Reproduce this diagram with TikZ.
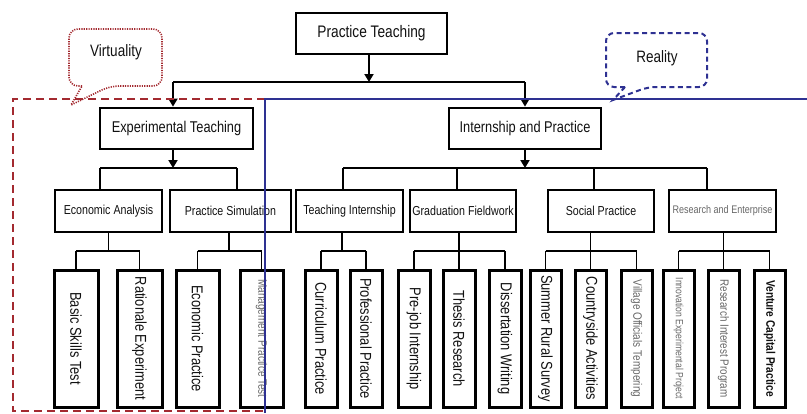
\documentclass[tikz,border=0pt]{standalone}
\usepackage{fontspec}
\setmainfont{Liberation Sans}
\newfontfamily\nar[FakeStretch=0.82]{Liberation Sans}
\usetikzlibrary{arrows.meta}
\definecolor{vred}{HTML}{A32A30}
\definecolor{rblue}{HTML}{2E3192}
\definecolor{txt}{HTML}{111111}
\definecolor{gtxt}{HTML}{666666}
\tikzset{
  box/.style={draw=black, line width=2.8pt, inner sep=0pt, text=txt},
  lone/.style={box, minimum width=151pt, minimum height=41pt, font=\nar\fontsize{16.7}{19}\selectfont},
  ltwo/.style={box, minimum height=41pt, font=\nar\fontsize{15.6}{18}\selectfont},
  lthree/.style={box, minimum height=42pt, font=\nar\fontsize{13}{15}\selectfont},
  leaf/.style={box, line width=3pt, minimum height=137pt, font=\nar\fontsize{15.7}{18}\selectfont},
  gleaf/.style={leaf, text=gtxt, font=\nar\fontsize{12.2}{14}\selectfont},
  conn/.style={line width=1.8pt, draw=black},
  arr/.style={conn, -{Triangle[length=8pt,width=9pt]}},
  vdot/.style={draw=vred, line width=1.6pt, dash pattern=on 1.2pt off 1.2pt},
  rdash/.style={draw=rblue, line width=2pt, dash pattern=on 5pt off 3.5pt},
  calltext/.style={text=txt, font=\nar\fontsize{16.5}{19}\selectfont},
}
\begin{document}
\begin{tikzpicture}[x=1pt,y=-1pt]
\useasboundingbox (0,0) rectangle (807,413);

% level 1 and 2
\node[lone] (pt) at (371.5,33.5) {Practice Teaching};
\node[ltwo, minimum width=153pt] (et) at (176.5,128.5) {Experimental Teaching};
\node[ltwo, minimum width=152pt] (ip) at (525,128.5) {Internship and Practice};

\coordinate (ptx) at (369,82);
\coordinate (hl) at (173,82);
\coordinate (hr) at (525,82);
\draw[arr] (ptx |- pt.south) -- (ptx);
\draw[conn] (hl) -- (hr);
\draw[arr] (hl) -- (hl |- et.north);
\draw[arr] (hr) -- (ip.north);

% level 3
\node[lthree, minimum width=107pt] (ea) at (108.5,211) {Economic Analysis};
\node[lthree, minimum width=121pt] (ps) at (230.5,211) {Practice Simulation};
\node[lthree, minimum width=107pt] (ti) at (349.5,211) {Teaching Internship};
\node[lthree, minimum width=106pt] (gf) at (463,211) {Graduation Fieldwork};
\node[lthree, minimum width=106pt] (sp) at (601,211) {Social Practice};
\node[lthree, minimum width=107pt, text=gtxt, font=\nar\fontsize{11}{13}\selectfont] (re) at (722.5,211) {Research and Enterprise};

\coordinate (ha) at (100,168);
\coordinate (hb) at (237,168);
\draw[arr] (hl |- et.south) -- (hl |- ha);
\draw[conn] (ha) -- (hb);
\draw[conn] (ha) -- (ha |- ea.north);
\draw[conn] (hb) -- (hb |- ps.north);

\coordinate (ia) at (343,168);
\coordinate (ib) at (457,168);
\coordinate (ic) at (594,168);
\coordinate (id) at (707,168);
\draw[arr] (ip.south) -- (ip.south |- ia);
\draw[conn] (ia) -- (id);
\draw[conn] (ia) -- (ia |- ti.north);
\draw[conn] (ib) -- (ib |- gf.north);
\draw[conn] (ic) -- (ic |- sp.north);
\draw[conn] (id) -- (id |- re.north);

% leaves
\node[leaf, minimum width=44pt] (bst) at (76,338.5) {\rotatebox{-90}{Basic Skills Test}};
\node[leaf, minimum width=45pt] (rex) at (139.5,338.5) {\rotatebox{-90}{Rationale Experiment}};
\node[leaf, minimum width=43pt] (ep) at (197.5,338.5) {\rotatebox{-90}{Economic Practice}};
\node[gleaf, minimum width=43pt] (mpt) at (261.5,338.5) {\rotatebox{-90}{Management Practice Test}};
\node[leaf, minimum width=32pt] (cp) at (321,338.5) {\rotatebox{-90}{Curriculum Practice}};
\node[leaf, minimum width=32pt] (pp) at (366,338.5) {\rotatebox{-90}{Professional Practice}};
\node[leaf, minimum width=32pt] (pji) at (414,338.5) {\rotatebox{-90}{Pre-job Internship}};
\node[leaf, minimum width=32pt] (tr) at (459,338.5) {\rotatebox{-90}{Thesis Research}};
\node[leaf, minimum width=32pt] (dw) at (505,338.5) {\rotatebox{-90}{Dissertation Writing}};
\node[leaf, minimum width=31pt] (srs) at (545.5,338.5) {\rotatebox{-90}{Summer Rural Survey}};
\node[leaf, minimum width=31pt] (ca) at (590.5,338.5) {\rotatebox{-90}{Countryside Activities}};
\node[gleaf, minimum width=31pt] (vot) at (636.5,338.5) {\rotatebox{-90}{Village Officials Tempering}};
\node[gleaf, minimum width=31pt, font=\nar\fontsize{10.5}{12}\selectfont] (iep) at (678.5,338.5) {\rotatebox{-90}{Innovation Experimental Project}};
\node[gleaf, minimum width=31pt, font=\nar\fontsize{12}{14}\selectfont] (rip) at (723.5,338.5) {\rotatebox{-90}{Research Interest Program}};
\node[leaf, minimum width=31pt, font=\nar\bfseries\fontsize{12.4}{14}\selectfont] (vcp) at (769.5,338.5) {\rotatebox{-90}{Venture Capital Practice}};

% lower connectors
\coordinate (ja) at (108,251);
\draw[conn] (ea.south) -- (ea.south |- ja);
\draw[conn] (bst.north |- ja) -- (rex.north |- ja);
\draw[conn] (bst.north |- ja) -- (bst.north);
\draw[conn] (rex.north |- ja) -- (rex.north);

\coordinate (jb) at (229,251);
\draw[conn] (jb |- ps.south) -- (jb);
\draw[conn] (ep.north |- jb) -- (mpt.north |- jb);
\draw[conn] (ep.north |- jb) -- (ep.north);
\draw[conn] (mpt.north |- jb) -- (mpt.north);

\coordinate (jc) at (342,251);
\draw[conn] (jc |- ti.south) -- (jc);
\draw[conn] (cp.north |- jc) -- (pp.north |- jc);
\draw[conn] (cp.north |- jc) -- (cp.north);
\draw[conn] (pp.north |- jc) -- (pp.north);

\coordinate (jd) at (459,251);
\draw[conn] (jd |- gf.south) -- (tr.north);
\draw[conn] (pji.north |- jd) -- (dw.north |- jd);
\draw[conn] (pji.north |- jd) -- (pji.north);
\draw[conn] (dw.north |- jd) -- (dw.north);

\coordinate (je) at (591,251);
\draw[conn] (ca.north |- sp.south) -- (ca.north);
\draw[conn] (srs.north |- je) -- (vot.north |- je);
\draw[conn] (srs.north |- je) -- (srs.north);
\draw[conn] (vot.north |- je) -- (vot.north);

\coordinate (jf) at (723,251);
\draw[conn] (rip.north |- re.south) -- (rip.north);
\draw[conn] (iep.north |- jf) -- (vcp.north |- jf);
\draw[conn] (iep.north |- jf) -- (iep.north);
\draw[conn] (vcp.north |- jf) -- (vcp.north);

% regions
\draw[vred, line width=2.5pt, dash pattern=on 8pt off 5pt] (265,99) -- (13,99) -- (13,411) -- (265,411);
\draw[rblue, line width=1.3pt] (265,413) -- (265,99) -- (807,99);

% callouts
\draw[vdot] (82,86) [rounded corners=9pt] -- (69,86) -- (69,29) -- (162,29) -- (162,86) -- (110,86) [sharp corners] -- (71,105) -- (82,86);
\node[calltext] (virt) at (116,52) {Virtuality};
\draw[rdash] (625,87) [rounded corners=8pt] -- (606,87) -- (606,33) -- (707,33) -- (707,87) -- (648,87) [sharp corners] -- (613,100) -- (625,87);
\node[calltext] (real) at (657,58) {Reality};
\end{tikzpicture}
\end{document}
